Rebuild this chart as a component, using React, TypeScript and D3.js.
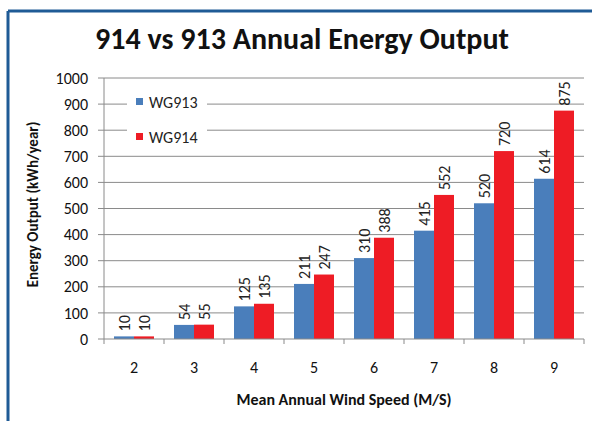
import React from 'react';
import * as d3 from 'd3';

const speeds = ['2', '3', '4', '5', '6', '7', '8', '9'];
const wg913 = [10, 54, 125, 211, 310, 415, 520, 614];
const wg914 = [10, 55, 135, 247, 388, 552, 720, 875];
const seriesNames = ['WG913', 'WG914'];
const seriesColors = ['#4a7ebb', '#ee1c25'];
const yTicks = [0, 100, 200, 300, 400, 500, 600, 700, 800, 900, 1000];

const W = 592;
const H = 421;
const font = 'Carlito, Calibri, "Open Sans", "Liberation Sans", sans-serif';

export default function App() {
  const left = 104, right = 584, top = 78, bottom = 339;

  const x = d3.scaleBand().domain(speeds).range([left, right]).paddingInner(0).paddingOuter(0);
  const inner = d3.scaleBand().domain(seriesNames).range([10, x.bandwidth() - 10]);
  const y = d3.scaleLinear().domain([0, 1000]).range([bottom, top]);

  const series = [wg913, wg914];
  const boundaries = speeds.map(s => x(s)!).concat([right]);

  return (
    <svg width={W} height={H} style={{ position: 'absolute', left: 0, top: 0, background: '#fff' }}>
      <rect x={0} y={0} width={W} height={H} fill="#fff" />
      {/* frame */}
      <line x1={8} y1={11} x2={W} y2={11} stroke="#1f5b96" strokeWidth={3} />
      <line x1={8} y1={11} x2={8} y2={H} stroke="#1f5b96" strokeWidth={3} />

      <text x={302} y={49} textAnchor="middle" fontFamily={font} fontWeight="bold" fontSize={30} fill="#111">
        914 vs 913 Annual Energy Output
      </text>

      {/* grid + y ticks */}
      {yTicks.map(t => (
        <g key={t}>
          {t > 0 && <line x1={left} x2={right} y1={y(t)} y2={y(t)} stroke="#8a8a8a" strokeWidth={1} />}
          <line x1={left - 6} x2={left} y1={y(t)} y2={y(t)} stroke="#8a8a8a" />
          <text x={88} y={y(t)} dy="0.35em" textAnchor="end" fontFamily={font} fontSize={16} fill="#111">{t}</text>
        </g>
      ))}

      {/* legend background */}
      <rect x={127} y={88} width={80} height={62} fill="#fff" />
      {seriesNames.map((n, i) => (
        <g key={n} transform={`translate(136, ${102 + i * 35})`}>
          <rect x={0} y={-4} width={7} height={7} fill={seriesColors[i]} />
          <text x={13} y={0} dy="0.35em" fontFamily={font} fontSize={16} fill="#222">{n}</text>
        </g>
      ))}

      {/* bars */}
      {series.map((vals, si) =>
        vals.map((v, i) => {
          const bx = x(speeds[i])! + inner(seriesNames[si])!;
          const bw = inner.bandwidth();
          return (
            <g key={`${si}-${i}`}>
              <rect x={bx} y={y(v)} width={bw} height={bottom - y(v)} fill={seriesColors[si]} />
              <text
                transform={`translate(${bx + bw / 2}, ${y(v) - 5}) rotate(-90)`}
                dy="0.35em"
                fontFamily={font}
                fontSize={16}
                fill="#222"
              >
                {v}
              </text>
            </g>
          );
        })
      )}

      {/* axes */}
      <line x1={left} x2={left} y1={top} y2={bottom} stroke="#8a8a8a" />
      <line x1={left} x2={right} y1={bottom} y2={bottom} stroke="#8a8a8a" />
      {boundaries.map((b, i) => (
        <line key={i} x1={b} x2={b} y1={bottom} y2={bottom + 5} stroke="#8a8a8a" />
      ))}
      {speeds.map(s => (
        <text key={s} x={x(s)! + x.bandwidth() / 2} y={367} dy="0.35em" textAnchor="middle" fontFamily={font} fontSize={16} fill="#111">
          {s}
        </text>
      ))}

      <text x={344} y={399} dy="0.35em" textAnchor="middle" fontFamily={font} fontWeight="bold" fontSize={16} fill="#111">
        Mean Annual  Wind Speed (M/S)
      </text>
      <text transform={`translate(33, ${(top + bottom) / 2 - 4}) rotate(-90)`} dy="0.35em" textAnchor="middle" fontFamily={font} fontWeight="bold" fontSize={15} fill="#111">
        Energy Output (kWh/year)
      </text>
    </svg>
  );
}
